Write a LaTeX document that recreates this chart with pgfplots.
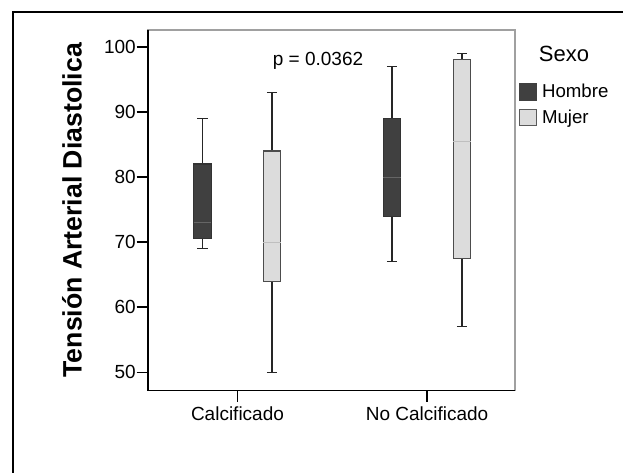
\documentclass[border=0pt]{standalone}
\usepackage{fontspec}
\setmainfont{Liberation Sans}
\usepackage{pgfplots}
\pgfplotsset{compat=1.18}
\definecolor{hombre}{HTML}{404040}
\definecolor{mujer}{HTML}{DCDCDC}
\definecolor{frameg}{HTML}{A0A0A0}
\pgfplotsset{
  whisk/.style={draw=black!85, line width=1.1pt, mark=none, solid, forget plot},
  hbox/.style={draw=black!80, fill=hombre, line width=0.8pt, mark=none, solid},
  mbox/.style={draw=black!70, fill=mujer, line width=0.8pt, mark=none, solid},
  hmed/.style={draw=black!60, line width=0.8pt, mark=none, forget plot},
  mmed/.style={draw=black!25, line width=0.8pt, mark=none, forget plot},
}
\begin{document}
\begin{tikzpicture}
\path[use as bounding box] (0pt,0pt) rectangle (467.25pt,354.75pt);
\draw[line width=1.9pt] (9.75pt,0pt) -- (9.75pt,345.75pt) -- (467.25pt,345.75pt);
\begin{axis}[
  at={(111pt,61.875pt)}, anchor=south west,
  width=275.25pt, height=270.4pt, scale only axis,
  xmin=-0.472, xmax=1.464, ymin=47.2, ymax=102.6,
  xtick={0,1}, xticklabels={Calcificado, No Calcificado},
  ytick={50,60,...,100},
  xtick pos=bottom, ytick pos=left,
  tick align=outside, major tick length=8.5pt,
  tick style={black, line width=1.1pt},
  axis line style={draw=frameg, line width=1pt},
  /pgf/number format/assume math mode=true,
  every tick label/.append style={font=\fontsize{14.25}{17}\selectfont},
  yticklabel style={inner xsep=0.5pt},
  ylabel={Tensión Arterial Diastolica},
  every axis y label/.style={at={(rel axis cs:0,0.5)}, rotate=90, anchor=center, yshift=57pt, font=\fontsize{20}{24}\selectfont\bfseries},
  legend style={at={(rel axis cs:1.011,0.856)}, anchor=north west, draw=none, fill=none, inner sep=0pt, font=\fontsize{14}{16}\selectfont, row sep=4.5pt, cells={anchor=west}, nodes={inner sep=1.5pt}},
  clip=false,
]
% ---- whiskers (line from lower to upper whisker, then caps) ----
% Calcificado / Hombre
\addplot[whisk] coordinates {(-0.185,69) (-0.185,89)};
\addplot[whisk] coordinates {(-0.2125,89) (-0.1575,89)};
\addplot[whisk] coordinates {(-0.2125,69) (-0.1575,69)};
% Calcificado / Mujer
\addplot[whisk] coordinates {(0.182,50) (0.182,93)};
\addplot[whisk] coordinates {(0.1545,93) (0.2095,93)};
\addplot[whisk] coordinates {(0.1545,50) (0.2095,50)};
% No Calcificado / Hombre
\addplot[whisk] coordinates {(0.815,67) (0.815,97)};
\addplot[whisk] coordinates {(0.7875,97) (0.8425,97)};
\addplot[whisk] coordinates {(0.7875,67) (0.8425,67)};
% No Calcificado / Mujer
\addplot[whisk] coordinates {(1.185,57) (1.185,99)};
\addplot[whisk] coordinates {(1.1575,99) (1.2125,99)};
\addplot[whisk] coordinates {(1.1575,57) (1.2125,57)};
% ---- boxes (lower quartile to upper quartile) ----
\addplot[hbox, legend image code/.code={\draw[fill=hombre, draw=black!75, line width=0.6pt] (0pt,-6.3pt) rectangle (12.6pt,6.3pt);}]
  coordinates {(-0.231,70.5) (-0.139,70.5) (-0.139,82) (-0.231,82)} -- cycle;
\addlegendentry{\,Hombre}
\addplot[mbox, legend image code/.code={\draw[fill=mujer, draw=black!65, line width=0.6pt] (0pt,-6.3pt) rectangle (12.6pt,6.3pt);}]
  coordinates {(0.136,64) (0.228,64) (0.228,84) (0.136,84)} -- cycle;
\addlegendentry{\,Mujer}
\addplot[hbox, forget plot] coordinates {(0.769,74) (0.861,74) (0.861,89) (0.769,89)} -- cycle;
\addplot[mbox, forget plot] coordinates {(1.139,67.5) (1.231,67.5) (1.231,98) (1.139,98)} -- cycle;
% ---- medians ----
\addplot[hmed] coordinates {(-0.231,73) (-0.139,73)};
\addplot[mmed] coordinates {(0.136,70) (0.228,70)};
\addplot[hmed] coordinates {(0.769,80) (0.861,80)};
\addplot[mmed] coordinates {(1.139,85.5) (1.231,85.5)};
\draw[black, line width=1.3pt] (rel axis cs:0,1) -- (rel axis cs:0,0) -- (rel axis cs:1,0);
\node[anchor=base, font=\fontsize{14.25}{17}\selectfont] at (axis cs:0.425,97.1) {p = 0.0362};
\end{axis}
\node[anchor=base, font=\fontsize{16.5}{20}\selectfont] at (423pt,308.25pt) {Sexo};
\end{tikzpicture}
\end{document}
